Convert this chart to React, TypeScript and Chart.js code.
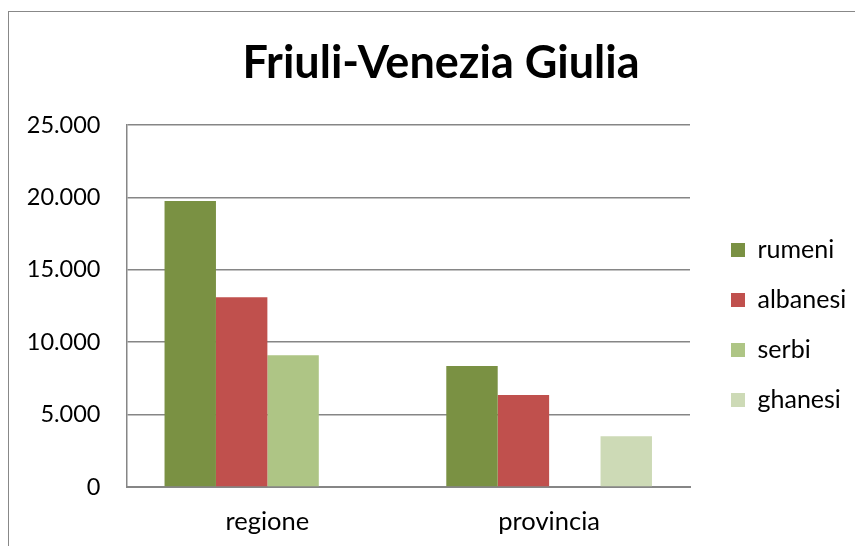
import React, { useEffect, useRef } from "react";
import { Chart, registerables } from "chart.js";

Chart.register(...registerables);

const categories = ["regione", "provincia"];
const seriesNames = ["rumeni", "albanesi", "serbi", "ghanesi"];
const rumeni = [19750, 8350];
const albanesi = [13100, 6350];
const serbi = [9100, null];
const ghanesi = [null, 3500];
const seriesColors = ["#7A9143", "#C0504D", "#AEC585", "#CDDAB6"];
const yTicks = [0, 5000, 10000, 15000, 20000, 25000];
const titleText = "Friuli-Venezia Giulia";

const fmt = (v: number) => v.toString().replace(/\B(?=(\d{3})+(?!\d))/g, ".");

const LEGEND_GAP = 41;
const LEGEND_WIDTH = 165;

const legendShift = {
  id: "legendShift",
  beforeLayout(chart: any) {
    const lg = chart.legend;
    if (lg && !lg.__patched) {
      const orig = lg.fit;
      lg.fit = function () {
        orig.call(this);
        this.width = LEGEND_WIDTH;
      };
      lg.__patched = true;
    }
  },
  afterLayout(chart: any) {
    const lg = chart.legend;
    if (!lg) return;
    const pad = lg.options.labels.padding;
    lg.left = chart.chartArea.right + LEGEND_GAP - pad;
    lg.right = chart.width;
    lg.width = lg.right - lg.left;
  },
};

export default function App() {
  const ref = useRef<HTMLCanvasElement | null>(null);
  useEffect(() => {
    if (!ref.current) return;
    const values = [rumeni, albanesi, serbi, ghanesi];
    const chart = new Chart(ref.current, {
      type: "bar",
      data: {
        labels: categories,
        datasets: seriesNames.map((n, i) => ({
          label: n,
          data: values[i],
          backgroundColor: seriesColors[i],
          borderWidth: 0,
          categoryPercentage: 0.73,
          barPercentage: 1,
        })),
      },
      plugins: [legendShift],
      options: {
        animation: false,
        responsive: false,
        layout: { padding: { left: 18, right: 0, top: 0, bottom: 10 } },
        plugins: {
          title: {
            display: true,
            text: titleText,
            color: "#000",
            font: { family: "Lato", size: 45, weight: "bold" },
            padding: { top: 24, bottom: 35 },
          },
          legend: {
            position: "right",
            fullSize: false,
            title: { display: true, text: " ", font: { size: 10 }, padding: { top: 13, bottom: 13 } },
            labels: {
              color: "#000",
              font: { family: "Lato", size: 25 },
              boxWidth: 14,
              boxHeight: 14,
              padding: 25,
            },
          },
          tooltip: { enabled: false },
        },
        scales: {
          x: {
            grid: { display: false, drawTicks: false },
            border: { display: true, color: "#868686", width: 2 },
            ticks: { color: "#000", font: { family: "Lato", size: 25.5 }, padding: 19 },
            afterFit: (s: any) => {
              s.height = 49;
            },
          },
          y: {
            min: 0,
            max: 25000,
            afterBuildTicks: (axis: any) => {
              axis.ticks = yTicks.map((v) => ({ value: v }));
            },
            grid: { color: "#868686", lineWidth: 1.5, drawTicks: false },
            border: { display: true, color: "#868686", width: 1.5 },
            ticks: {
              color: "#000",
              font: { family: "Lato", size: 23.5 },
              padding: 26,
              callback: (v: any) => fmt(Number(v)),
            },
            afterFit: (s: any) => {
              s.width = 99.5;
            },
          },
        },
      },
    });
    return () => chart.destroy();
  }, []);
  return (
    <div
      style={{
        position: "absolute",
        left: 8,
        top: 11,
        width: 847,
        height: 535,
        borderLeft: "1.5px solid #888",
        borderTop: "1.5px solid #888",
        boxSizing: "border-box",
        overflow: "hidden",
        background: "#fff",
      }}
    >
      <canvas ref={ref} width={846} height={534} style={{ display: "block" }} />
    </div>
  );
}
